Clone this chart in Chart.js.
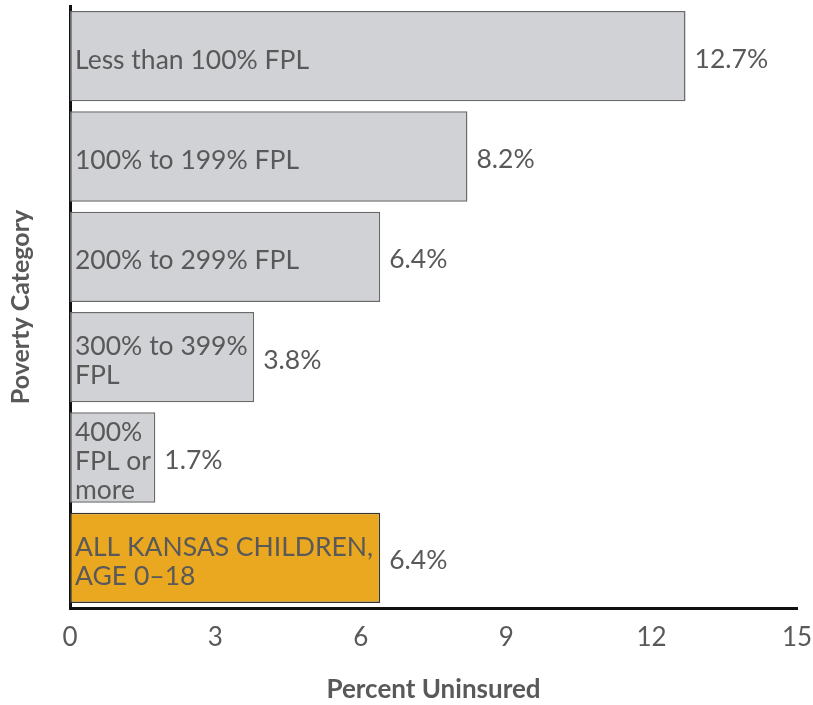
<!DOCTYPE html>
<html lang="en">
<head>
  <meta charset="UTF-8" />
  <title>Uninsured Kansas Children by Poverty Category</title>
  <script src="https://cdn.jsdelivr.net/npm/chart.js"></script>
  <style>
    html, body {
      margin: 0;
      padding: 0;
      background: #fff;
    }
    .chart-box {
      width: 813px;
      height: 705px;
    }
  </style>
</head>
<body>
  <div class="chart-box">
    <canvas id="povertyChart" width="813" height="705"></canvas>
  </div>

  <script>
    // data
    const categories = [
      ['Less than 100% FPL'],
      ['100% to 199% FPL'],
      ['200% to 299% FPL'],
      ['300% to 399%', 'FPL'],
      ['400%', 'FPL or', 'more'],
      ['ALL KANSAS CHILDREN,', 'AGE 0\u201318']
    ];
    const uninsured = [12.7, 8.2, 6.4, 3.8, 1.76, 6.4];
    const valueLabels = ['12.7%', '8.2%', '6.4%', '3.8%', '1.7%', '6.4%'];
    const xTicks = [0, 3, 6, 9, 12, 15];

    const textColor = '#595959';
    const fontFamily = 'Lato, sans-serif';

    const barColors = uninsured.map((v, i) => i === uninsured.length - 1 ? '#eaa821' : '#d0d2d5');
    const borderColors = uninsured.map((v, i) => i === uninsured.length - 1 ? '#333333' : '#6a6a6a');

    // writes the category name inside the bar and the value after it
    const barText = {
      id: 'barText',
      afterDatasetsDraw(chart) {
        const ctx = chart.ctx;
        const meta = chart.getDatasetMeta(0);
        ctx.save();
        ctx.font = '26.5px ' + fontFamily;
        ctx.fillStyle = textColor;
        ctx.textBaseline = 'middle';
        meta.data.forEach((bar, i) => {
          const lines = categories[i];
          const lh = 29;
          const startY = bar.y + 4 - (lines.length - 1) * lh / 2;
          ctx.textAlign = 'left';
          lines.forEach((line, j) => {
            ctx.fillText(line, bar.base + 5, startY + j * lh);
          });
          ctx.fillText(valueLabels[i], bar.x + 9, bar.y + 3);
        });
        ctx.restore();
      }
    };

    const ctx = document.getElementById('povertyChart').getContext('2d');
    const povertyChart = new Chart(ctx, {
      type: 'bar',
      data: {
        labels: categories,
        datasets: [{
          data: uninsured,
          backgroundColor: barColors,
          borderColor: borderColors,
          borderWidth: 1.5,
          borderSkipped: false,
          barPercentage: 0.9,
          categoryPercentage: 1.0
        }]
      },
      options: {
        indexAxis: 'y',
        responsive: false,
        animation: false,
        layout: {
          padding: { top: 6, right: 0, bottom: 0, left: 0 }
        },
        plugins: {
          legend: { display: false },
          tooltip: { enabled: false }
        },
        scales: {
          x: {
            min: 0,
            max: 15,
            afterBuildTicks(axis) {
              axis.ticks = xTicks.map(v => ({ value: v }));
            },
            afterFit(axis) {
              axis.height = 97;
              axis.paddingRight = 16;
            },
            grid: { display: false },
            border: { display: true, color: '#111', width: 3 },
            ticks: {
              color: textColor,
              padding: 6,
              font: { family: fontFamily, size: 26 }
            },
            title: {
              display: true,
              text: 'Percent Uninsured',
              color: textColor,
              padding: { top: 0, bottom: 0 },
              font: { family: fontFamily, size: 26, weight: 'bold' }
            }
          },
          y: {
            afterFit(axis) {
              axis.width = 70;
            },
            grid: { display: false },
            border: { display: true, color: '#111', width: 3 },
            ticks: { display: false },
            title: {
              display: true,
              text: 'Poverty Category',
              color: textColor,
              padding: { top: 6, bottom: 0 },
              font: { family: fontFamily, size: 25, weight: 'bold' }
            }
          }
        }
      },
      plugins: [barText]
    });
  </script>
</body>
</html>
